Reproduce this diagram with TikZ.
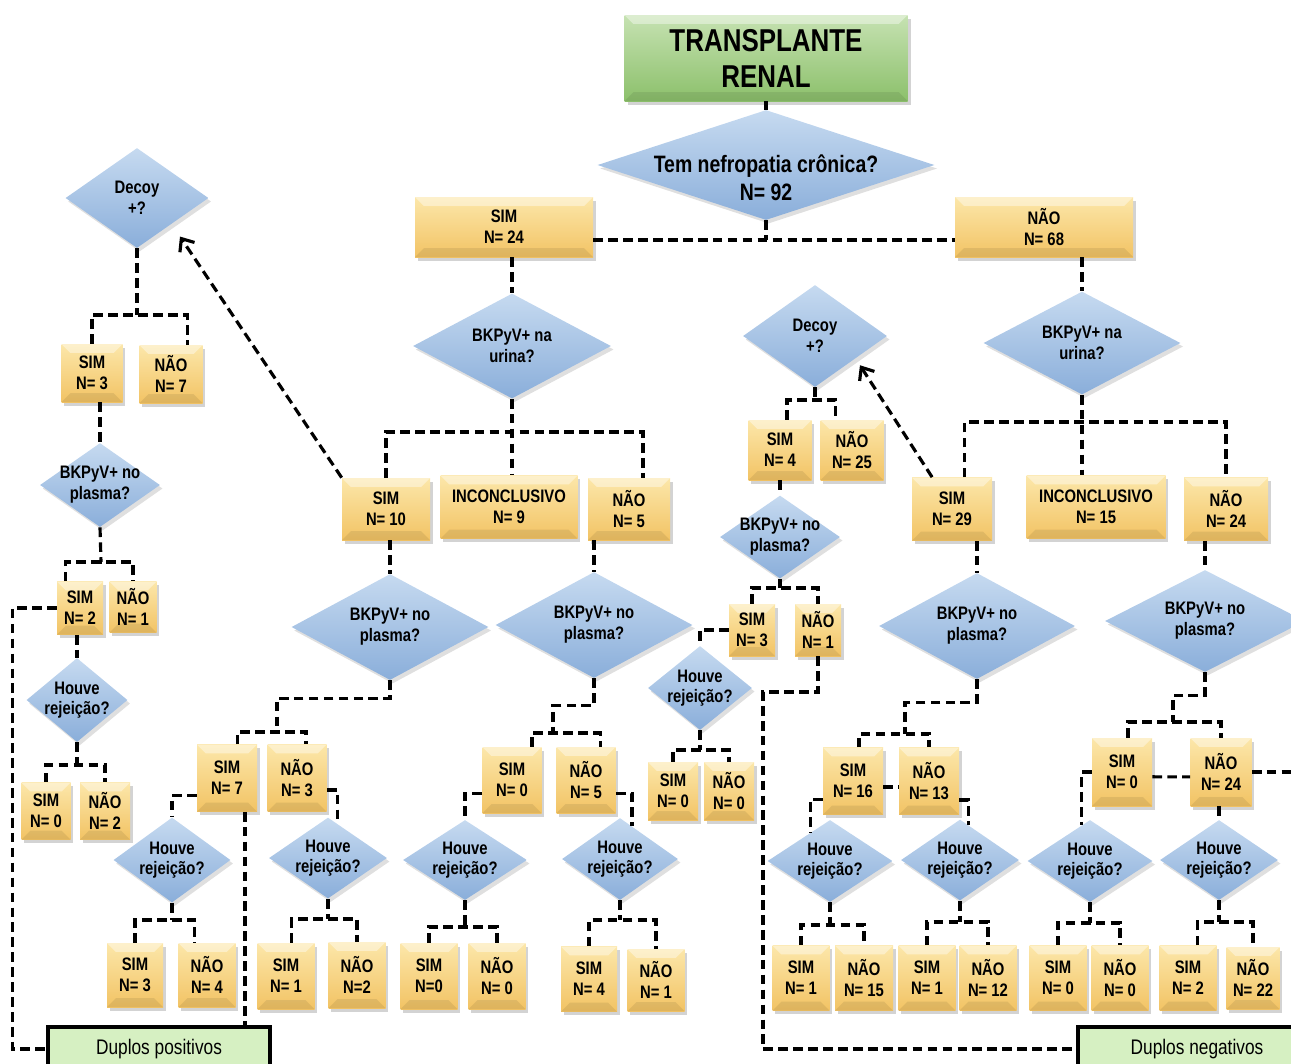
\documentclass[tikz,border=0pt]{standalone}
\usepackage{fontspec}
\setmainfont{Liberation Sans}[FakeStretch=0.82]
\usetikzlibrary{shapes.geometric,shadows,arrows.meta}

\definecolor{boxtop}{HTML}{FCE7AA}
\definecolor{boxbot}{HTML}{F2C364}
\definecolor{asktop}{HTML}{C6DAF0}
\definecolor{askbot}{HTML}{8AAEDA}
\definecolor{headtop}{HTML}{C6E2B2}
\definecolor{headbot}{HTML}{8CC06B}
\definecolor{dupfill}{HTML}{D6F0C2}

\newcommand{\txtfont}{\bfseries\fontsize{10.3}{11.8}\selectfont}

\tikzset{
  sz/.style 2 args={minimum width=#1*0.02cm, minimum height=#2*0.02cm},
  bevel/.style={path picture={
    \fill[white,opacity=.4] (path picture bounding box.north west) -- (path picture bounding box.north east)
      -- ([xshift=-5pt,yshift=-5pt]path picture bounding box.north east)
      -- ([xshift=5pt,yshift=-5pt]path picture bounding box.north west) -- cycle;
    \fill[black,opacity=.08] (path picture bounding box.south west) -- (path picture bounding box.south east)
      -- ([xshift=-5pt,yshift=5pt]path picture bounding box.south east)
      -- ([xshift=5pt,yshift=5pt]path picture bounding box.south west) -- cycle;
  }},
  box/.style={rectangle, inner sep=1pt, align=center, font=\txtfont,
    top color=boxtop, bottom color=boxbot, bevel,
    drop shadow={opacity=.35, shadow xshift=1.5pt, shadow yshift=-2pt}},
  ask/.style={diamond, inner sep=0pt, top color=asktop, bottom color=askbot,
    drop shadow={opacity=.25, shadow xshift=1.5pt, shadow yshift=-2pt}},
  ques/.style={label={[align=center,font=\txtfont]center:#1}},
  headbox/.style={rectangle, align=center, font=\bfseries\fontsize{18}{20.5}\selectfont,
    top color=headtop, bottom color=headbot, bevel,
    drop shadow={opacity=.35, shadow xshift=2pt, shadow yshift=-2.5pt}},
  dup/.style={rectangle, draw=black, line width=2pt, fill=dupfill, font=\fontsize{12}{14}\selectfont},
  link/.style={draw=black, line width=1.8pt, dash pattern=on 5.5pt off 3pt},
  arr/.style={link, -{Straight Barb[length=6pt,width=10pt]}},
}

\begin{document}
\begin{tikzpicture}[x=0.02cm, y=-0.02cm]
\useasboundingbox (0,0) rectangle (1291,1063);
\clip (0,0) rectangle (1291,1063);

% topo
\node[headbox, sz={283}{86}] (trans) at (766,58) {TRANSPLANTE\\RENAL};
\node[ask, sz={337}{110}, label={[align=center,yshift=-0.26cm,font=\bfseries\fontsize{13.5}{16}\selectfont]center:Tem nefropatia crônica?\\N= 92}] (nefro) at (766,165) {};
\node[box, sz={178}{60}] (sim24) at (504,227) {SIM\\N= 24};
\node[box, sz={178}{60}] (nao68) at (1044,227) {NÃO\\N= 68};

\node[ask, sz={198}{105}, ques={BKPyV+ na\\urina?}] (urnA) at (512,346) {};
\node[ask, sz={197}{103}, ques={BKPyV+ na\\urina?}] (urnB) at (1082,343) {};
\node[box, sz={88}{62}] (sim10) at (386,509) {SIM\\N= 10};
\node[box, sz={137}{63}] (inc9) at (509,507) {INCONCLUSIVO\\N= 9};
\node[box, sz={82}{62}] (nao5) at (629,509) {NÃO\\N= 5};
\node[box, sz={80}{63}] (sim29) at (952,509) {SIM\\N= 29};
\node[box, sz={139}{63}] (inc15) at (1096,507) {INCONCLUSIVO\\N= 15};
\node[box, sz={84}{63}] (nao24) at (1226,509) {NÃO\\N= 24};

% decoy esquerda
\node[ask, sz={143}{100}, ques={Decoy\\+?}] (decA) at (137,198) {};
\node[box, sz={61}{58}] (sim3a) at (92,373) {SIM\\N= 3};
\node[box, sz={63}{58}] (nao7) at (171,374) {NÃO\\N= 7};
\node[ask, sz={120}{84}, ques={BKPyV+ no\\plasma?}] (plsA) at (100,485) {};
\node[box, sz={46}{53}] (sim2) at (80,608) {SIM\\N= 2};
\node[box, sz={47}{51}] (nao1a) at (133,607) {NÃO\\N= 1};
\node[ask, sz={101}{84}, ques={Houve\\rejeição?}] (rejA) at (77,700) {};
\node[box, sz={49}{57}] (sim0a) at (46,811) {SIM\\N= 0};
\node[box, sz={50}{57}] (nao2) at (105,811) {NÃO\\N= 2};

% plasma, ramo sim
\node[ask, sz={197}{106}, ques={BKPyV+ no\\plasma?}] (plsB) at (390,627) {};
\node[ask, sz={197}{106}, ques={BKPyV+ no\\plasma?}] (plsC) at (594,625) {};
\node[box, sz={60}{67}] (sim7) at (227,778) {SIM\\N= 7};
\node[box, sz={59}{67}] (nao3) at (297,778) {NÃO\\N= 3};
\node[ask, sz={117}{85}, ques={Houve\\rejeição?}] (rejB) at (172,860) {};
\node[ask, sz={118}{81}, ques={Houve\\rejeição?}] (rejC) at (328,858) {};
\node[box, sz={56}{64}] (sim3b) at (135,975) {SIM\\N= 3};
\node[box, sz={57}{64}] (nao4) at (207,975) {NÃO\\N= 4};
\node[box, sz={57}{66}] (sim1a) at (286,976) {SIM\\N= 1};
\node[box, sz={57}{66}] (nao2b) at (357,975) {NÃO\\N=2};
\node[box, sz={59}{66}] (sim0b) at (512,780) {SIM\\N= 0};
\node[box, sz={59}{66}] (nao5b) at (586,780) {NÃO\\N= 5};
\node[ask, sz={124}{80}, ques={Houve\\rejeição?}] (rejD) at (465,860) {};
\node[ask, sz={116}{82}, ques={Houve\\rejeição?}] (rejE) at (620,859) {};
\node[box, sz={57}{66}] (sim0c) at (429,976) {SIM\\N=0};
\node[box, sz={57}{66}] (nao0a) at (497,976) {NÃO\\N= 0};
\node[box, sz={56}{65}] (sim4) at (589,979) {SIM\\N= 4};
\node[box, sz={57}{62}] (nao1b) at (656,980) {NÃO\\N= 1};

% decoy meio
\node[ask, sz={144}{102}, ques={Decoy\\+?}] (decB) at (815,336) {};
\node[box, sz={63}{60}] (sim4b) at (780,450) {SIM\\N= 4};
\node[box, sz={63}{60}] (nao25) at (852,450) {NÃO\\N= 25};
\node[ask, sz={120}{83}, ques={BKPyV+ no\\plasma?}] (plsD) at (780,537) {};
\node[box, sz={46}{52}] (sim3c) at (752,630) {SIM\\N= 3};
\node[box, sz={46}{52}] (nao1c) at (818,630) {NÃO\\N= 1};
\node[ask, sz={104}{84}, ques={Houve\\rejeição?}] (rejF) at (700,688) {};
\node[box, sz={50}{58}] (sim0d) at (673,791) {SIM\\N= 0};
\node[box, sz={50}{58}] (nao0b) at (729,791) {NÃO\\N= 0};

% ramo nao
\node[ask, sz={196}{106}, ques={BKPyV+ no\\plasma?}] (plsE) at (977,626) {};
\node[ask, sz={200}{102}, ques={BKPyV+ no\\plasma?}] (plsF) at (1205,621) {};
\node[box, sz={60}{67}] (sim16) at (853,781) {SIM\\N= 16};
\node[box, sz={60}{67}] (nao13) at (929,781) {NÃO\\N= 13};
\node[ask, sz={125}{82}, ques={Houve\\rejeição?}] (rejG) at (830,861) {};
\node[ask, sz={118}{81}, ques={Houve\\rejeição?}] (rejH) at (960,860) {};
\node[box, sz={57}{65}] (sim1b) at (801,978) {SIM\\N= 1};
\node[box, sz={58}{65}] (nao15) at (864,978) {NÃO\\N= 15};
\node[box, sz={57}{65}] (sim1c) at (927,978) {SIM\\N= 1};
\node[box, sz={57}{65}] (nao12) at (988,978) {NÃO\\N= 12};
\node[box, sz={60}{68}] (sim0e) at (1122,772) {SIM\\N= 0};
\node[box, sz={61}{68}] (nao24b) at (1221,772) {NÃO\\N= 24};
\node[ask, sz={125}{82}, ques={Houve\\rejeição?}] (rejI) at (1090,861) {};
\node[ask, sz={118}{80}, ques={Houve\\rejeição?}] (rejJ) at (1219,860) {};
\node[box, sz={57}{65}] (sim0f) at (1058,978) {SIM\\N= 0};
\node[box, sz={57}{65}] (nao0c) at (1120,978) {NÃO\\N= 0};
\node[box, sz={57}{65}] (sim2b) at (1188,978) {SIM\\N= 2};
\node[box, sz={53}{62}] (nao22) at (1253,978) {NÃO\\N= 22};

\node[dup, sz={222}{44}] (dupPos) at (159,1049) {Duplos positivos};
\node[dup, sz={238}{44}] (dupNeg) at (1197,1049) {Duplos negativos};

% ligacoes
\coordinate (j0) at (766,240);
\draw[link] (trans) -- (nefro);
\draw[link] (nefro.south) -- (j0);
\draw[link] (sim24.east |- j0) -- (nao68.west |- j0);
\draw[link] (urnA.north |- sim24.south) -- (urnA.north);
\draw[link] (urnB.north |- nao68.south) -- (urnB.north);

\coordinate (jA) at (512,432);
\draw[link] (urnA.south) -- (urnA.south |- inc9.north);
\draw[link] (sim10.north) |- (jA) -| (nao5.66);
\coordinate (jB) at (1085,422);
\draw[link] (urnB.south) -- (urnB.south |- inc15.north);
\draw[link] (sim29.68) |- (jB) -| (nao24.north);

\draw[arr, shorten >=0.3cm] (sim10.north west) -- (decA.-37);
\draw[arr, shorten >=0.16cm] (sim29.122) -- (decB.-29);

\coordinate (jC) at (137,315);
\draw[link] (decA.south) -- (jC);
\draw[link] (sim3a.north) |- (jC) -| (nao7.61);
\draw[link] (plsA.north |- sim3a.south) -- (plsA.north);
\coordinate (jD) at (101,562);
\draw[link] (plsA.south) -- (jD);
\draw[link] (sim2.118) |- (jD) -| (nao1a.north);
\draw[link] (rejA.north |- sim2.south) -- (rejA.north);
\coordinate (jE) at (77,765);
\draw[link] (rejA.south) -- (jE);
\draw[link] (sim0a.north) |- (jE) -| (nao2.north);
\draw[link] (sim2.west) -- ++(-44,0) |- (dupPos.west);

\draw[link] (plsB.north |- sim10.south) -- (plsB.north);
\draw[link] (plsC.north |- nao5.south) -- (plsC.north);
\coordinate (jF) at (277,732);
\draw[link] (plsB.south) -- ++(0,18) -| (jF);
\draw[link] (sim7.73) |- (jF) -| (nao3.75);
\draw[link] (sim7.210) -| (rejB.north);
\coordinate (jG) at (172,920);
\draw[link] (rejB.south) -- (jG);
\draw[link] (sim3b.north) |- (jG) -| (nao4.111);
\draw[link] (sim7.-62) -- (sim7.-62 |- dupPos.north);
\draw[link] (nao3.-22) -| (rejC.75);
\coordinate (jH) at (328,919);
\draw[link] (rejC.south) -- (jH);
\draw[link] (sim1a.80) |- (jH) -| (nao2b.north);

\coordinate (jI) at (553,733);
\draw[link] (plsC.south) -- ++(0,27) -| (jI);
\draw[link] (sim0b.59) |- (jI) -| (nao5b.67);
\draw[link] (sim0b.204) -| (rejD.north);
\coordinate (jJ) at (465,927);
\draw[link] (rejD.south) -- (jJ);
\draw[link] (sim0c.north) |- (jJ) -| (nao0a.north);
\draw[link] (nao5b.-24) -| (rejE.70);
\coordinate (jK) at (620,920);
\draw[link] (rejE.south) -- (jK);
\draw[link] (sim4.north) |- (jK) -| (nao1b.north);

\coordinate (jL) at (815,400);
\draw[link] (decB.south) -- (jL);
\draw[link] (sim4b.77) |- (jL) -| (nao25.118);
\draw[link] (sim4b) -- (plsD);
\coordinate (jM) at (780,588);
\draw[link] (plsD.south) -- (jM);
\draw[link] (sim3c.north) |- (jM) -| (nao1c.north);
\draw[link] (sim3c.west) -| (rejF.north);
\coordinate (jN) at (700,750);
\draw[link] (rejF.south) -- (jN);
\draw[link] (sim0d.north) |- (jN) -| (nao0b.north);
\coordinate (bendN) at (763,692);
\draw[link] (nao1c.south) |- (bendN) |- (dupNeg.west);

\coordinate (jO) at (905,734);
\draw[link] (plsE.north |- sim29.south) -- (plsE.north);
\draw[link] (plsF.north |- nao24.south) -- (plsF.north);
\draw[link] (plsE.south) -- ++(0,23) -| (jO);
\draw[link] (sim16.80) |- (jO) -| (nao13.north);
\draw[link] (sim16.-11) -- (nao13.191);
\draw[link] (sim16.211) -| (rejG.124);
\coordinate (jP) at (830,925);
\draw[link] (rejG.south) -- (jP);
\draw[link] (sim1b.north) |- (jP) -| (nao15.north);
\draw[link] (nao13.-32) -| (rejH.77);
\coordinate (jQ) at (960,922);
\draw[link] (rejH.south) -- (jQ);
\draw[link] (sim1c.north) |- (jQ) -| (nao12.north);

\coordinate (jR) at (1173,722);
\draw[link] (plsF.south) -- ++(0,23) -| (jR);
\draw[link] (sim0e.80) |- (jR) -| (nao24b.north);
\draw[link] (sim0e.-9) -- (nao24b.189);
\draw[link] (nao24b.east) -| (dupNeg.north east);
\draw[link] (sim0e.west) -| (rejI.103);
\coordinate (jS) at (1090,923);
\draw[link] (rejI.south) -- (jS);
\draw[link] (sim0f.north) |- (jS) -| (nao0c.north);
\draw[link] (rejJ.north |- nao24b.south) -- (rejJ.north);
\coordinate (jT) at (1219,922);
\draw[link] (rejJ.south) -- (jT);
\draw[link] (sim2b.74) |- (jT) -| (nao22.north);
\end{tikzpicture}
\end{document}
